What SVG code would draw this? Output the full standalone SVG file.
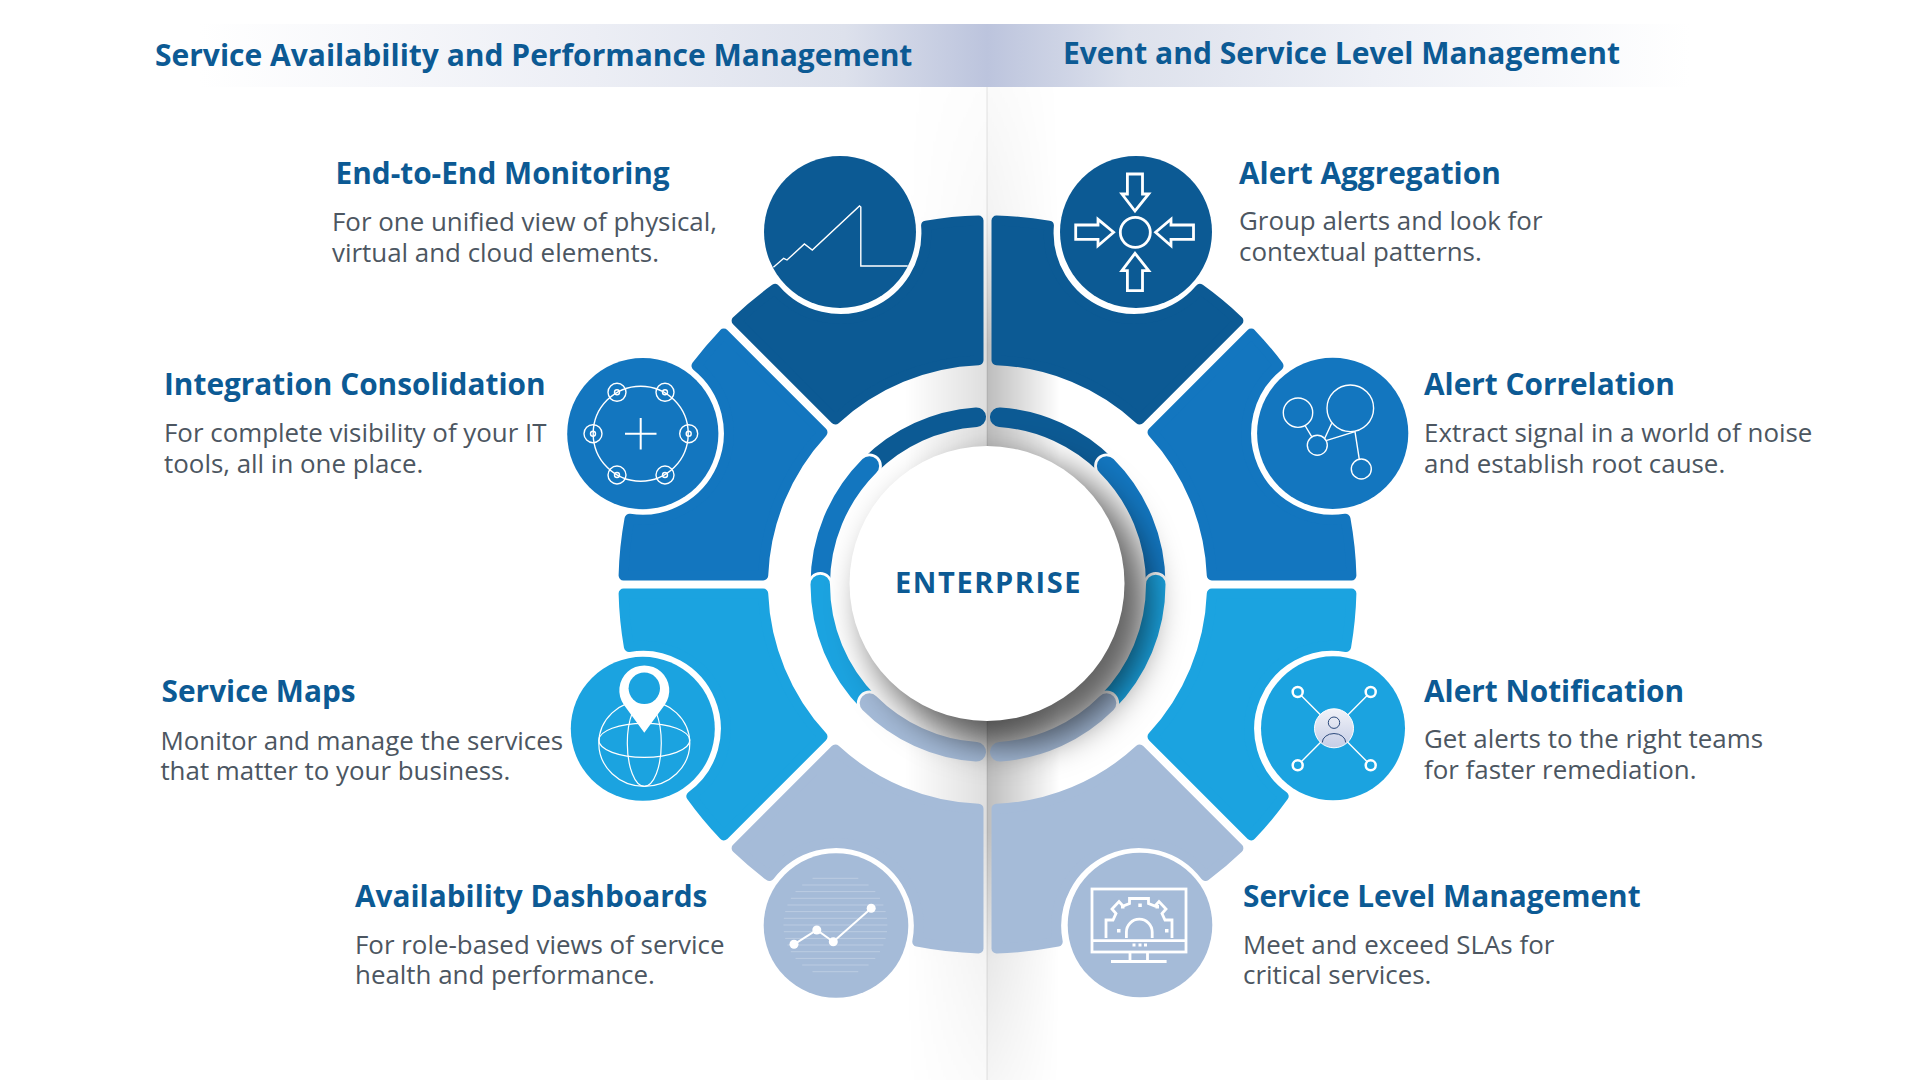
<svg xmlns="http://www.w3.org/2000/svg" width="1920" height="1080" viewBox="0 0 1920 1080">
<style>
text{font-family:"Open Sans","Noto Sans",sans-serif}
.hd{font-size:30px;font-weight:700;fill:#0c5a94}
.ti{font-size:29.8px;font-weight:700;fill:#0c5a94}
.bd{font-size:25.9px;fill:#4c5661}
.seg{stroke-width:10;stroke-linejoin:round}
.c1{fill:#0c5a94;stroke:#0c5a94}
.c2{fill:#1376bf;stroke:#1376bf}
.c3{fill:#1ba3e0;stroke:#1ba3e0}
.c4{fill:#a5bbd8;stroke:#a5bbd8}
.f1{fill:#0c5a94}.f2{fill:#1376bf}.f3{fill:#1ba3e0}.f4{fill:#a5bbd8}
.ic{fill:none;stroke:#fff;stroke-width:1.4}
.ic2{fill:none;stroke:#fff;stroke-width:2.8}
.tr{fill:none;stroke-width:19.5;stroke-linecap:round}
.ha{fill:none;stroke:#fff;stroke-width:25;stroke-linecap:round}
</style>
<defs>
<linearGradient id="hL" gradientUnits="userSpaceOnUse" x1="200" x2="987" y1="0" y2="0"><stop offset="0" stop-color="#fff"/><stop offset=".5" stop-color="#eceef5"/><stop offset=".82" stop-color="#dde1ec"/><stop offset="1" stop-color="#bcc4dd"/></linearGradient>
<linearGradient id="hR" gradientUnits="userSpaceOnUse" x1="987" x2="1690" y1="0" y2="0"><stop offset="0" stop-color="#bcc4dd"/><stop offset=".2" stop-color="#dde1ec"/><stop offset=".55" stop-color="#eef0f6"/><stop offset="1" stop-color="#fff"/></linearGradient>
<linearGradient id="fL" gradientUnits="userSpaceOnUse" x1="905" x2="987" y1="0" y2="0"><stop offset="0" stop-color="#000" stop-opacity="0"/><stop offset="1" stop-color="#000" stop-opacity=".13"/></linearGradient>
<linearGradient id="fR" gradientUnits="userSpaceOnUse" x1="987" x2="1060" y1="0" y2="0"><stop offset="0" stop-color="#000" stop-opacity=".26"/><stop offset="1" stop-color="#000" stop-opacity="0"/></linearGradient>
<linearGradient id="fV" gradientUnits="userSpaceOnUse" x1="0" x2="0" y1="87" y2="1080"><stop offset="0" stop-color="#fff" stop-opacity=".08"/><stop offset=".125" stop-color="#fff" stop-opacity=".18"/><stop offset=".26" stop-color="#fff"/><stop offset=".75" stop-color="#fff"/><stop offset=".88" stop-color="#fff" stop-opacity=".35"/><stop offset="1" stop-color="#fff" stop-opacity=".15"/></linearGradient>
<mask id="fm" maskUnits="userSpaceOnUse" x="880" y="87" width="200" height="993"><rect x="880" y="87" width="200" height="993" fill="url(#fV)"/></mask>
<linearGradient id="pg" x1="0" x2="0" y1="0" y2="1"><stop offset="0" stop-color="#f1f2f8"/><stop offset="1" stop-color="#c5cde6"/></linearGradient>
<filter id="bl" x="-40%" y="-40%" width="180%" height="180%"><feGaussianBlur stdDeviation="18"/></filter>
<path id="sA" d="M-9,-363.9 L-9,-224.3 A224.5,224.5 0 0 0 -152.2,-165 L-250.9,-263.7 A364,364 0 0 1 -212.4,-295.6 A86,86 0 0 0 -61.4,-358.8 A364,364 0 0 1 -9,-363.9 Z"/>
<path id="sB" d="M-165,-152.2 L-263.7,-250.9 A364,364 0 0 0 -291,-218.7 A86.5,86.5 0 0 1 -358,-65.7 A364,364 0 0 0 -363.9,-9 L-224.3,-9 A224.5,224.5 0 0 1 -165,-152.2 Z"/>
<path id="sC" d="M-224.3,9 L-363.9,9 A364,364 0 0 0 -358.6,62.5 A83,83 0 0 1 -296.2,211.7 A364,364 0 0 0 -263.7,250.9 L-165,152.2 A224.5,224.5 0 0 1 -224.3,9 Z"/>
<path id="sD" d="M-9,224.3 L-9,363.9 A364,364 0 0 1 -70.2,357.2 A83,83 0 0 0 -218,291.6 A364,364 0 0 1 -250.9,263.7 L-152.2,165 A224.5,224.5 0 0 0 -9,224.3 Z"/>
</defs>

<g id="background">
<rect width="1920" height="1080" fill="#fff"/>
<rect x="200" y="24" width="787" height="63" fill="url(#hL)"/>
<rect x="987" y="24" width="703" height="63" fill="url(#hR)"/>
<g mask="url(#fm)">
<rect x="905" y="87" width="82" height="993" fill="url(#fL)"/>
<rect x="987" y="87" width="73" height="993" fill="url(#fR)"/>
</g>
</g>

<g id="headers">
<text class="hd" x="155" y="66">Service Availability and Performance Management</text>
<text class="hd" x="1063" y="64">Event and Service Level Management</text>
</g>

<g id="node-end-to-end">
<use href="#sA" class="seg c1" transform="translate(987.5,584.5)"/>
<circle class="f1" cx="840" cy="232" r="76"/>
<path class="ic" d="M773.4,267.3 L783.7,258.3 L787,260 L804.4,244 L812.3,250 L859.5,206 L860.8,207 V266 H907.7"/>
<text class="ti" x="335.5" y="184">End-to-End Monitoring</text>
<text class="bd" x="332" y="231">For one unified view of physical,</text>
<text class="bd" x="332" y="262">virtual and cloud elements.</text>
</g>

<g id="node-integration">
<use href="#sB" class="seg c2" transform="translate(987.5,584.5)"/>
<circle class="f2" cx="642.8" cy="433.7" r="75.6"/>
<g class="ic">
<circle cx="640.7" cy="433.7" r="47.5"/>
<path d="M625,433.7 H656.5 M640.7,418 V449.5" stroke-width="2"/>
<circle cx="617" cy="392.3" r="9"/><circle cx="617" cy="392.3" r="2.5"/>
<circle cx="665" cy="392.3" r="9"/><circle cx="665" cy="392.3" r="2.5"/>
<circle cx="593" cy="433.7" r="9"/><circle cx="593" cy="433.7" r="2.5"/>
<circle cx="688.7" cy="433.7" r="9"/><circle cx="688.7" cy="433.7" r="2.5"/>
<circle cx="617" cy="475" r="9"/><circle cx="617" cy="475" r="2.5"/>
<circle cx="665" cy="475" r="9"/><circle cx="665" cy="475" r="2.5"/>
</g>
<text class="ti" x="164" y="394.5">Integration Consolidation</text>
<text class="bd" x="164" y="442">For complete visibility of your IT</text>
<text class="bd" x="164" y="473">tools, all in one place.</text>
</g>

<g id="node-service-maps">
<use href="#sC" class="seg c3" transform="translate(987.5,584.5)"/>
<circle class="f3" cx="642.8" cy="728.8" r="72"/>
<g class="ic" style="stroke-width:1.2">
<ellipse cx="644.3" cy="743.3" rx="45.5" ry="43"/>
<ellipse cx="644.3" cy="740.3" rx="45.5" ry="17"/>
<ellipse cx="644.3" cy="743.3" rx="17" ry="43"/>
</g>
<path fill="#fff" d="M644.3,732.7 L624,705 A25,25 0 1 1 664.6,705 Z"/>
<circle class="f3" cx="644.3" cy="688.3" r="15.7"/>
<text class="ti" x="161.6" y="701.6">Service Maps</text>
<text class="bd" x="160.4" y="749.5">Monitor and manage the services</text>
<text class="bd" x="160.4" y="780">that matter to your business.</text>
</g>

<g id="node-availability">
<use href="#sD" class="seg c4" transform="translate(987.5,584.5)"/>
<circle class="f4" cx="836" cy="925.5" r="72.3"/>
<path fill="none" stroke="#fff" stroke-opacity=".25" stroke-width="1" d="M783.4,925H887.4M783.8,918.3H887M783.8,931.7H887M785.2,911.6H885.6M785.2,938.4H885.6M787.4,905H883.4M787.4,945H883.4M790.8,898.3H880M790.8,951.7H880M795.5,891.6H875.3M795.5,958.4H875.3M802.2,885H868.6M802.2,965H868.6M812.5,878.3H858.3M812.5,971.7H858.3"/>
<path fill="none" stroke="#fff" stroke-width="2" d="M794,944.3 L816.8,930 L833.3,941.7 L871.2,908.3"/>
<g fill="#fff"><circle cx="794" cy="944.3" r="4.5"/><circle cx="816.8" cy="930" r="4.5"/><circle cx="833.3" cy="941.7" r="4.5"/><circle cx="871.2" cy="908.3" r="4.5"/></g>
<text class="ti" x="355" y="907">Availability Dashboards</text>
<text class="bd" x="355" y="953.8">For role-based views of service</text>
<text class="bd" x="355" y="984">health and performance.</text>
</g>

<g id="node-alert-aggregation">
<use href="#sA" class="seg c1" transform="translate(987.5,584.5) scale(-1,1)"/>
<circle class="f1" cx="1136" cy="232" r="76"/>
<g class="ic2">
<circle cx="1135.3" cy="232.3" r="15"/>
<path d="M1127.4,174 H1142.5 V194 H1148.7 L1135,211 L1121.9,194 H1127.4 Z"/>
<path d="M1127.4,290.7 H1142.5 V270.7 H1148.7 L1135,253.3 L1121.9,270.7 H1127.4 Z"/>
<path d="M1075.7,225 V239.3 H1098 V245.7 L1113.6,232.2 L1098,219.3 V225 Z"/>
<path d="M1193.5,225 V239.3 H1171 V245.7 L1155.6,232.2 L1171,219.3 V225 Z"/>
</g>
<text class="ti" x="1239" y="184">Alert Aggregation</text>
<text class="bd" x="1239" y="230">Group alerts and look for</text>
<text class="bd" x="1239" y="261">contextual patterns.</text>
</g>

<g id="node-alert-correlation">
<use href="#sB" class="seg c2" transform="translate(987.5,584.5) scale(-1,1)"/>
<circle class="f2" cx="1332.7" cy="433.3" r="75.6"/>
<g class="ic">
<circle cx="1298" cy="412.7" r="14.7"/>
<circle cx="1350.3" cy="408.3" r="23.3"/>
<circle cx="1317.3" cy="445.3" r="10"/>
<circle cx="1361.3" cy="469" r="10"/>
<path d="M1305.3,426 L1311.7,436.7 M1331.7,423.3 L1324.3,439.3 M1326,440.7 L1355,431.7 L1359.3,459.3"/>
</g>
<text class="ti" x="1424" y="394.5">Alert Correlation</text>
<text class="bd" x="1424" y="442">Extract signal in a world of noise</text>
<text class="bd" x="1424" y="473">and establish root cause.</text>
</g>

<g id="node-alert-notification">
<use href="#sC" class="seg c3" transform="translate(987.5,584.5) scale(-1,1)"/>
<circle class="f3" cx="1333" cy="728.3" r="72"/>
<path class="ic" d="M1297.7,692 L1370.7,765.3 M1370.7,692 L1297.7,765.3"/>
<g fill="#1ba3e0" stroke="#fff" stroke-width="2.5">
<circle cx="1297.7" cy="692" r="5"/><circle cx="1370.7" cy="692" r="5"/><circle cx="1297.7" cy="765.3" r="5"/><circle cx="1370.7" cy="765.3" r="5"/>
</g>
<circle cx="1334" cy="728.3" r="19.5" fill="url(#pg)" stroke="#fff" stroke-width="1"/>
<g fill="none" stroke="#2c4a7c" stroke-width="1"><circle cx="1334" cy="722.7" r="5.7"/><path d="M1322.3,742.5 A11.7,9 0 0 1 1345.7,742.5"/></g>
<text class="ti" x="1424" y="701.6">Alert Notification</text>
<text class="bd" x="1424" y="748">Get alerts to the right teams</text>
<text class="bd" x="1424" y="779">for faster remediation.</text>
</g>

<g id="node-service-level">
<use href="#sD" class="seg c4" transform="translate(987.5,584.5) scale(-1,1)"/>
<circle class="f4" cx="1140" cy="925" r="72.3"/>
<g class="ic2">
<rect x="1092" y="889" width="94" height="63"/>
<path d="M1092,940.7 H1186 M1130,952.7 V961 M1147.5,952.7 V961 M1111,961.5 H1166.6 M1106,938 V920 H1113 L1116,913.5 L1112,909 L1119,901.5 L1123,906 L1129.5,903.5 V898.5 H1148.5 V903.5 L1155,906 L1159,901.5 L1166,909 L1162,913.5 L1165,920 H1172 V938 M1126.4,938 V932 A12.9,12.9 0 0 1 1152.2,932 V938"/>
</g>
<g fill="#fff"><rect x="1132.5" y="943.5" width="3" height="3"/><rect x="1138.5" y="943.5" width="3" height="3"/><rect x="1144" y="943.5" width="3" height="3"/><rect x="1121" y="905" width="3.5" height="3.5"/><rect x="1138.3" y="903.5" width="3.5" height="3.5"/><rect x="1155.5" y="905" width="3.5" height="3.5"/><rect x="1117" y="929" width="3.5" height="3.5"/><rect x="1165" y="929" width="3.5" height="3.5"/></g>
<text class="ti" x="1243" y="907">Service Level Management</text>
<text class="bd" x="1243" y="953.8">Meet and exceed SLAs for</text>
<text class="bd" x="1243" y="984">critical services.</text>
</g>

<g id="inner-ring" transform="translate(988,584.5)">
<g id="ring-left">
<path class="tr" stroke="#0c5a94" d="M-11.7,-167.3 A167.75,167.75 0 0 0 -118.6,-118.6"/>
<path class="ha" d="M-118.6,-118.6 A167.75,167.75 0 0 0 -128.5,-107.8"/>
<path class="tr" stroke="#1376bf" d="M-118.6,-118.6 A167.75,167.75 0 0 0 -167.75,0"/>
<path class="ha" d="M-167.75,0 A167.75,167.75 0 0 0 -167.1,14.6"/>
<path class="tr" stroke="#1ba3e0" d="M-167.75,0 A167.75,167.75 0 0 0 -118.6,118.6"/>
<path class="ha" d="M-118.6,118.6 A167.75,167.75 0 0 0 -107.8,128.5"/>
<path class="tr" stroke="#a5bbd8" d="M-118.6,118.6 A167.75,167.75 0 0 0 -11.7,167.3"/>
</g>
<g id="ring-right" transform="scale(-1,1)">
<path class="tr" stroke="#0c5a94" d="M-11.7,-167.3 A167.75,167.75 0 0 0 -118.6,-118.6"/>
<path class="ha" d="M-118.6,-118.6 A167.75,167.75 0 0 0 -128.5,-107.8"/>
<path class="tr" stroke="#1376bf" d="M-118.6,-118.6 A167.75,167.75 0 0 0 -167.75,0"/>
<path class="ha" d="M-167.75,0 A167.75,167.75 0 0 0 -167.1,14.6"/>
<path class="tr" stroke="#1ba3e0" d="M-167.75,0 A167.75,167.75 0 0 0 -118.6,118.6"/>
<path class="ha" d="M-118.6,118.6 A167.75,167.75 0 0 0 -107.8,128.5"/>
<path class="tr" stroke="#a5bbd8" d="M-118.6,118.6 A167.75,167.75 0 0 0 -11.7,167.3"/>
</g>
</g>

<g id="node-enterprise">
<circle cx="1007" cy="603" r="142" fill="#000" fill-opacity=".62" filter="url(#bl)"/>
<rect x="986.5" y="87" width="1" height="993" fill="#000" fill-opacity=".1"/>
<circle cx="987" cy="583.5" r="137.5" fill="#fff"/>
<text x="988.6" y="593.3" text-anchor="middle" font-size="29" font-weight="700" letter-spacing="1.6" fill="#0c5a94">ENTERPRISE</text>
</g>
</svg>
